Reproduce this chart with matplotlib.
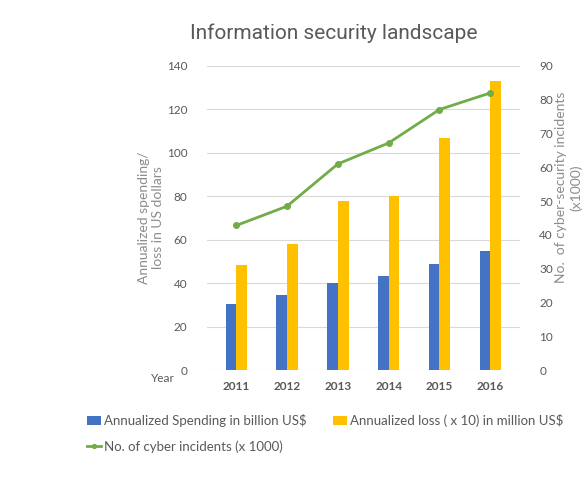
import matplotlib.pyplot as plt
import numpy as np

years = ['2011', '2012', '2013', '2014', '2015', '2016']
spending = [30.5, 34.5, 40, 43.5, 49, 55]          # billion US$
loss = [48.5, 58, 78, 80, 107, 133]                # x10 million US$
incidents = [42.8, 48.5, 61, 67.2, 77.1, 82]       # x1000

plt.rcParams['font.family'] = ['Lato', 'DejaVu Sans']
gray = '#595959'

fig = plt.figure(figsize=(5.84, 5.03), dpi=100)
ax = fig.add_axes([0.354, 0.264, 0.536, 0.605])
x = np.arange(len(years))
w = 0.21
b1 = ax.bar(x - w/2, spending, w, color='#4472C4', label='Annualized Spending in billion US$', zorder=3)
b2 = ax.bar(x + w/2, loss, w, color='#FFC000', label='Annualized loss ( x 10) in million US$', zorder=3)
ax.set_ylim(0, 140)
ax.set_yticks(range(0, 141, 20))
ax.set_xlim(-0.58, 5.58)
ax.set_xticks(x)
ax.set_xticklabels(years, fontweight='bold', color=gray, fontsize=8.5)
ax.grid(axis='y', color='#d9d9d9', lw=0.8, zorder=0)
ax.tick_params(axis='y', colors=gray, labelsize=8.5, length=0, pad=14)
ax.tick_params(axis='x', length=0, pad=8)
for s in ax.spines.values():
    s.set_visible(False)
ax.set_ylabel('Annualized spending/\nloss in US dollars', color='#8c8c8c', fontsize=10, labelpad=2)

ax2 = ax.twinx()
l1, = ax2.plot(x, incidents, color='#70AD47', lw=2, marker='o', ms=4, label='No. of cyber incidents (x 1000)', zorder=4)
ax2.set_ylim(0, 90)
ax2.set_yticks(range(0, 91, 10))
ax2.tick_params(axis='y', colors=gray, labelsize=8.5, length=0, pad=14)
for s in ax2.spines.values():
    s.set_visible(False)
ax2.set_ylabel('No.  of cyber-security incidents\n(x1000)', color='#8c8c8c', fontsize=10)
ax2.yaxis.set_label_coords(1.114, 0.6)

fig.text(0.258, 0.248, 'Year', color=gray, fontsize=8.5, ha='left', va='center')
fig.text(0.571, 0.934, 'Information security landscape', color=gray, fontsize=15,
         family='Roboto', ha='center', va='center')

fig.legend(handles=[b1, l1, b2], loc='upper left', bbox_to_anchor=(0.128, 0.2), ncol=2,
           frameon=False, fontsize=9.5, labelcolor=gray, handlelength=1.1, handletextpad=0.2,
           columnspacing=2.0, labelspacing=1.0, markerscale=0.7)

fig.savefig('out.png', dpi=100, facecolor='white')
